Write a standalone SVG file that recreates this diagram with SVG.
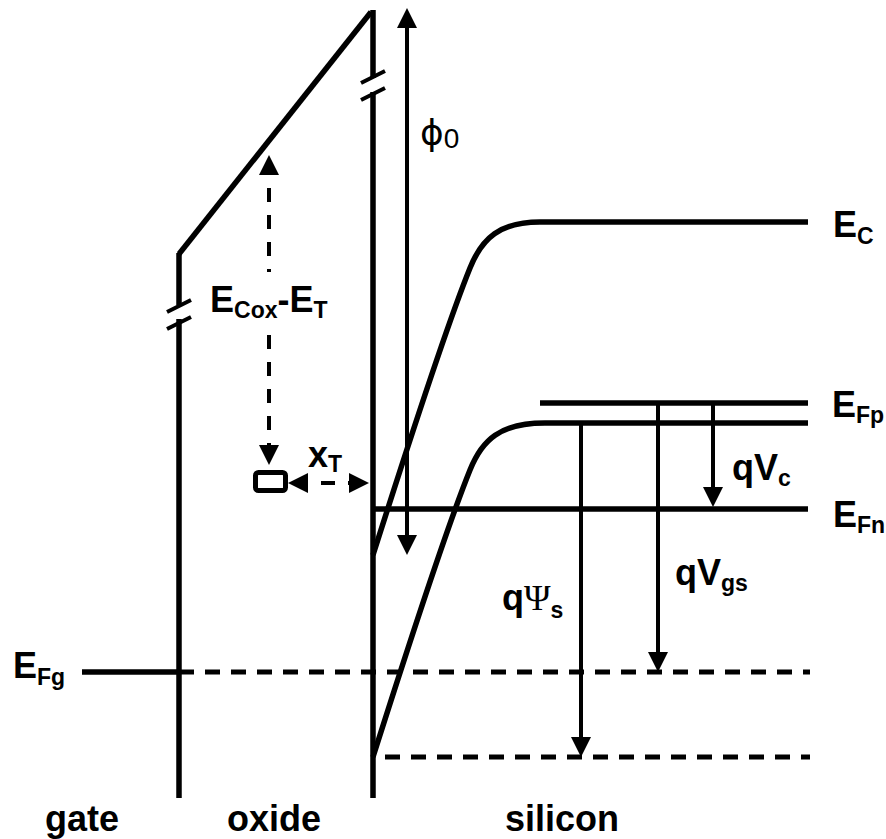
<svg xmlns="http://www.w3.org/2000/svg" width="886" height="839" viewBox="0 0 886 839">
<style>
.ln{fill:none;stroke:#000;stroke-width:5.5;stroke-linecap:butt}
.ar{fill:none;stroke:#000;stroke-width:4}
.dl{fill:none;stroke:#000;stroke-width:5;stroke-dasharray:15 11}
.da{fill:none;stroke:#000;stroke-width:4;stroke-dasharray:14 13}
.brk{fill:none;stroke:#000;stroke-width:4}
text{font-family:"Liberation Sans",Arial,sans-serif;font-weight:bold;font-size:36px;fill:#000}
.sub{font-size:23px}
.sym{font-family:"Liberation Serif","Times New Roman",serif;font-weight:normal}
.phi{font-family:"DejaVu Sans","Liberation Sans",sans-serif;font-weight:normal}
.zero{font-family:"Liberation Sans",Arial,sans-serif;font-weight:normal}
</style>
<defs>
<marker id="ah" markerUnits="userSpaceOnUse" markerWidth="20" markerHeight="20" refX="14" refY="10" orient="auto-start-reverse" viewBox="0 0 20 20">
<path d="M0,0 L20,10 L0,20 z" fill="#000"/>
</marker>
</defs>
<rect width="886" height="839" fill="#fff"/>

<g id="gate">
<path class="ln" d="M179,253 V305 M179,319 V798"/>
<path class="brk" d="M167,312 L191,300 M167,329 L191,317"/>
<path class="ln" d="M179,254 L371,12"/>
<path class="ln" d="M82,672 H179"/>
</g>

<g id="interface">
<path class="ln" d="M373,10 V78 M373,92 V798"/>
<path class="brk" d="M361,83 L385,71 M361,100 L385,88"/>
</g>

<g id="bands">
<path class="ln" d="M373,555 C400,470 445,330 470,268 C482,238 500,222 540,222 L808,222"/>
<path class="ln" d="M373,757 C400,672 445,532 470,470 C482,440 500,423 545,423 L808,423"/>
<path class="ln" d="M540,403 H808"/>
<path class="ln" d="M373,509 H808"/>
<path class="dl" d="M179,672 H810"/>
<path class="dl" d="M385,757 H810"/>
</g>

<g id="trap">
<rect x="255.5" y="472.5" width="30" height="18" rx="3" fill="none" stroke="#000" stroke-width="5"/>
</g>

<g id="connectors">
<path class="ar" d="M407,14 V549" marker-start="url(#ah)" marker-end="url(#ah)"/>
<path class="da" d="M269,161 V272" marker-start="url(#ah)"/>
<path class="da" d="M269,335 V459" marker-end="url(#ah)"/>
<path class="da" d="M294,483 H363" marker-start="url(#ah)" marker-end="url(#ah)"/>
<path class="ar" d="M713,403 V501" marker-end="url(#ah)"/>
<path class="ar" d="M658,403 V666" marker-end="url(#ah)"/>
<path class="ar" d="M581,423 V751" marker-end="url(#ah)"/>
</g>

<g id="labels">
<text x="420" y="145"><tspan class="phi" font-size="36">ϕ</tspan><tspan class="zero" font-size="28" dy="3">0</tspan></text>
<text x="210" y="312">E<tspan class="sub" dy="6">Cox</tspan><tspan dy="-6">-E</tspan><tspan class="sub" dy="6">T</tspan></text>
<text x="308" y="467" font-size="30">x<tspan class="sub" dy="5">T</tspan></text>
<text x="833" y="237">E<tspan class="sub" dy="7">C</tspan></text>
<text x="832" y="417">E<tspan class="sub" dy="6">Fp</tspan></text>
<text x="833" y="527">E<tspan class="sub" dy="6">Fn</tspan></text>
<text x="732" y="480">qV<tspan class="sub" dy="6">c</tspan></text>
<text x="675" y="585">qV<tspan class="sub" dy="6">gs</tspan></text>
<text x="502" y="610">q<tspan class="sym">Ψ</tspan><tspan class="sub" dy="8">s</tspan></text>
<text x="13" y="678">E<tspan class="sub" dy="7">Fg</tspan></text>
<text x="45" y="831">gate</text>
<text x="227" y="831">oxide</text>
<text x="505" y="831">silicon</text>
</g>
</svg>
